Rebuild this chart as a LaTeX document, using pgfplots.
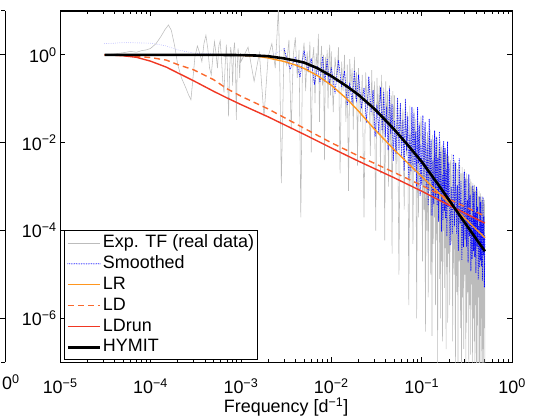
\documentclass[border=0pt]{standalone}
\usepackage{fontspec}
\setmainfont{Liberation Sans}
\usepackage{pgfplots}
\pgfplotsset{compat=1.18}
\usepackage{pgfplotstable}
\definecolor{tfgray}{RGB}{188,188,188}
\definecolor{tflegend}{RGB}{210,210,210}
\definecolor{smblue}{RGB}{0,0,255}
\definecolor{lrorange}{RGB}{255,150,30}
\definecolor{ldorange}{RGB}{250,105,45}
\definecolor{ldrunred}{RGB}{240,55,35}
\newcommand{\chartfont}{\fontsize{18}{21}\selectfont}
\pgfplotstableread{
x y
3.1e-5 1.0
4e-5 1.05
5e-5 1.12
6e-5 1.2
7e-5 1.15
8e-5 1.25
9e-5 1.3
1.0e-4 1.4
1.15e-4 1.8
1.3e-4 2.6
1.45e-4 3.8
1.58e-4 4.8
1.7e-4 3.6
1.85e-4 1.6
2.0e-4 0.6
2.2e-4 0.3
2.45e-4 0.18
2.65e-4 0.12
2.8e-4 0.095
2.95e-4 0.3
3.1e-4 0.9
3.3e-4 1.6
3.5e-4 1.1
3.7e-4 0.7
3.9e-4 1.8
4.1e-4 2.8
4.3e-4 1.4
4.5e-4 0.5
4.7e-4 0.35
4.9e-4 0.9
5.1e-4 2.0
5.3e-4 1.1
5.5e-4 0.5
5.7e-4 1.6
5.9e-4 2.1
6.1e-4 0.8
6.3e-4 0.25
6.5e-4 0.14
6.7e-4 0.6
6.9e-4 1.7
7.1e-4 0.5
7.3e-4 0.04
7.5e-4 0.4
7.7e-4 1.5
7.9e-4 1.0
8.1e-4 0.2
8.3e-4 1.2
8.5e-4 1.9
8.7e-4 0.7
8.9e-4 0.033
9.1e-4 0.5
9.3e-4 1.4
9.5e-4 0.9
9.7e-4 0.3
9.9e-4 1.1
1.0e-3 0.7
1.2e-3 1.5
1.4e-3 0.25
1.6e-3 1.1
1.8e-3 0.04
2.0e-3 0.9
2.2e-3 1.8
2.4e-3 0.5
2.6e-3 12
2.7e-3 0.3
2.8e-3 1.2e-3
3.0e-3 1.4
3.2e-3 0.6
3.4e-3 2.2
3.6e-3 0.02
3.8e-3 1.0
4.0e-3 2.5
4.2e-3 0.3
4.4e-3 1.3
4.6e-3 2e-4
4.8e-3 0.9
5.0e-3 1.9
5.2e-3 0.15
5.4e-3 1.2
5.6e-3 0.4
5.8e-3 2.0
6.0e-3 6e-3
6.2e-3 0.8
6.4e-3 1.5
6.6e-3 0.08
6.8e-3 1.1
7.0e-3 0.5
7.2e-3 3.0
7.4e-3 0.03
7.6e-3 0.7
7.8e-3 1.6
8.0e-3 0.2
8.2e-3 1.0
8.4e-3 4e-3
8.6e-3 0.9
8.8e-3 0.35
9.0e-3 1.3
9.2e-3 0.06
9.4e-3 0.8
9.6e-3 1.7
9.8e-3 0.12
0.0100 1.2
0.0105 0.05
0.0110 0.9
0.0115 0.3
0.0120 1.5
0.0125 2e-3
0.0130 0.7
0.0135 0.15
0.0140 1.0
0.0145 0.03
0.0150 0.6
0.0155 8e-4
0.0160 0.8
0.0165 0.2
0.0170 0.5
0.0175 0.02
0.0180 0.9
0.0185 0.1
0.0190 0.4
0.0195 3e-3
0.020 0.5
0.021 0.03
0.022 0.35
0.023 2e-4
0.024 0.4
0.025 0.06
0.026 0.3
0.027 5e-3
0.028 0.45
0.029 0.02
0.030 0.25
0.031 1e-4
0.032 0.3
0.033 0.04
0.034 0.2
0.035 2e-3
0.036 0.35
0.037 0.01
0.038 0.18
0.039 6e-5
0.040 0.25
0.041 0.03
0.042 0.15
0.043 1e-3
0.044 0.2
0.045 8e-3
0.046 0.12
0.047 3e-5
0.048 0.15
0.049 0.02
0.050 0.12
0.052 2e-3
0.054 0.1
0.056 1e-5
0.058 0.08
0.060 0.01
0.062 0.06
0.064 3e-4
0.066 0.09
0.068 5e-3
0.070 0.05
0.072 2e-6
0.074 0.07
0.076 1e-3
0.078 0.04
0.080 5e-5
0.082 0.06
0.084 4e-3
0.086 0.035
0.088 1e-6
0.090 0.05
0.092 2e-4
0.094 0.03
0.096 6e-3
0.098 0.04
0.100 0.02
0.102 2e-5
0.104 0.015
0.106 3e-4
0.108 0.022
0.110 5e-7
0.112 0.012
0.114 1e-4
0.116 0.018
0.118 3e-6
0.120 0.014
0.122 8e-4
0.124 0.02
0.126 1e-5
0.128 0.01
0.130 4e-7
0.132 0.015
0.134 5e-5
0.136 0.012
0.138 2e-4
0.140 0.016
0.142 2e-6
0.144 0.008
0.146 6e-5
0.148 0.013
0.150 5e-8
0.152 0.01
0.154 3e-4
0.156 0.007
0.158 8e-6
0.160 0.011
0.162 1e-6
0.164 0.008
0.166 2e-5
0.168 0.009
0.170 3e-7
0.172 0.007
0.174 1e-4
0.176 0.008
0.178 5e-6
0.180 0.006
0.182 4e-5
0.184 0.0075
0.186 2e-7
0.188 0.0055
0.190 1.5e-5
0.192 0.007
0.194 8e-7
0.196 0.005
0.198 3e-5
0.200 0.005
0.204 2e-6
0.208 0.004
0.212 5e-5
0.216 0.0055
0.220 3e-7
0.224 0.003
0.228 1e-5
0.232 0.004
0.236 5e-8
0.240 0.0035
0.244 4e-6
0.248 0.0025
0.252 1e-7
0.256 0.0035
0.260 2e-5
0.264 0.003
0.268 6e-7
0.272 0.002
0.276 5e-8
0.280 0.0028
0.284 3e-6
0.288 0.002
0.292 2e-7
0.296 0.0025
0.300 1e-5
0.304 0.0016
0.308 5e-8
0.312 0.002
0.316 8e-7
0.320 0.0015
0.324 4e-6
0.328 0.0018
0.332 5e-8
0.336 0.0012
0.340 2e-6
0.344 0.0015
0.348 1.5e-7
0.352 0.0013
0.356 6e-6
0.360 0.001
0.364 5e-8
0.368 0.0012
0.372 1e-6
0.376 0.0009
0.380 3e-7
0.384 0.0011
0.388 5e-8
0.392 0.0008
0.396 2e-6
0.400 0.001
0.404 5e-8
0.408 0.0007
0.412 7e-7
0.416 0.0009
0.420 5e-8
0.424 0.0006
0.428 3e-6
0.432 0.0008
0.436 5e-8
0.440 0.0006
0.444 4e-7
0.448 0.0007
0.452 5e-8
0.456 0.0005
0.460 1e-6
0.464 0.0006
0.468 5e-8
0.472 0.0005
0.476 2e-7
0.480 0.00055
0.484 5e-8
0.488 0.0004
0.492 6e-7
0.496 0.0005
0.500 5e-8
}\tfdata
\pgfplotstableread{
x y
3.1e-5 1.8
5e-5 1.9
1e-4 1.85
1.5e-4 1.6
2e-4 1.3
3e-4 1.1
5e-4 1.05
1e-3 0.95
2e-3 0.9
3.0e-3 1.38
}\smlow
\pgfplotstableread{
x y
3.0e-3 1.38
3.5e-3 0.47
4.0e-3 0.89
4.5e-3 0.31
5.0e-3 1.26
5.5e-3 0.43
6.0e-3 0.83
6.5e-3 0.21
7.0e-3 0.54
7.5e-3 0.24
8.0e-3 0.91
8.5e-3 0.25
9.0e-3 0.78
9.5e-3 0.21
0.010 0.51
0.011 0.135
0.012 0.76
0.013 0.186
0.014 0.43
0.015 0.072
0.016 0.234
0.017 0.079
0.018 0.44
0.019 0.085
0.0200 0.355
0.0215 0.060
0.0230 0.178
0.0245 0.029
0.0260 0.32
0.0275 0.049
0.0290 0.158
0.0305 0.0138
0.0320 0.074
0.0335 0.017
0.0350 0.186
0.0365 0.019
0.0380 0.145
0.0395 0.0135
0.0410 0.066
0.0425 6.8e-3
0.0440 0.17
0.0455 0.016
0.0470 0.076
0.0485 3.9e-3
0.050 0.032
0.052 5.6e-3
0.054 0.107
0.056 6.8e-3
0.058 0.078
0.060 4.8e-3
0.062 0.032
0.064 2.3e-3
0.066 0.098
0.068 6.6e-3
0.070 0.040
0.072 1.4e-3
0.074 0.0155
0.076 2.2e-3
0.078 0.065
0.080 3.0e-3
0.082 0.047
0.084 2.1e-3
0.086 0.018
0.088 1.0e-3
0.090 0.065
0.092 3.4e-3
0.094 0.0245
0.096 6.3e-4
0.098 9.3e-3
0.100 1.1e-3
0.103 0.042
0.106 1.4e-3
0.109 0.029
0.112 9.8e-4
0.115 9.5e-3
0.118 3.9e-4
0.121 0.035
0.124 1.4e-3
0.127 0.0117
0.130 2.2e-4
0.133 3.9e-3
0.136 4.0e-4
0.139 0.019
0.142 5.8e-4
0.145 0.0135
0.148 3.9e-4
0.151 4.5e-3
0.154 1.6e-4
0.157 0.018
0.160 6.5e-4
0.163 6.0e-3
0.166 9.5e-5
0.169 1.9e-3
0.172 1.8e-4
0.175 0.0107
0.178 2.8e-4
0.181 7.4e-3
0.184 1.9e-4
0.187 2.4e-3
0.190 7.6e-5
0.193 0.0107
0.196 3.4e-4
0.200 3.5e-3
0.206 4.6e-5
0.212 1.0e-3
0.218 8.7e-5
0.224 5.4e-3
0.230 1.26e-4
0.236 3.5e-3
0.242 8.7e-5
0.248 1.07e-3
0.254 3.5e-5
0.260 4.3e-3
0.266 1.45e-4
0.272 1.3e-3
0.278 2.2e-5
0.284 4.3e-4
0.290 4.2e-5
0.296 2.2e-3
0.302 6.2e-5
0.308 1.45e-3
0.314 4.3e-5
0.320 4.9e-4
0.326 1.9e-5
0.332 1.9e-3
0.338 7.4e-5
0.344 6.5e-4
0.350 1.2e-5
0.356 2.2e-4
0.362 2.3e-5
0.368 1.07e-3
0.374 3.4e-5
0.380 7.6e-4
0.386 2.5e-5
0.392 2.6e-4
0.398 1.1e-5
0.404 1.0e-3
0.410 4.4e-5
0.416 3.5e-4
0.422 7.6e-6
0.428 1.26e-4
0.434 1.45e-5
0.440 5.9e-4
0.446 2.1e-5
0.452 4.4e-4
0.458 1.55e-5
0.464 1.55e-4
0.470 7.2e-6
0.476 5.8e-4
0.482 2.8e-5
0.488 2.1e-4
0.494 5.1e-6
0.500 7.9e-5
}\smdata
\begin{document}
\begin{tikzpicture}
\path (-58pt,-54pt) rectangle (477pt,364pt);
\begin{axis}[
  name=leftpanel,
  at={(-59pt,0pt)}, anchor=south west,
  scale only axis, width=4pt, height=353pt,
  xmin=0, xmax=1, ymode=log, ymin=1e-7, ymax=10,
  axis x line*=bottom, axis y line*=right,
  xtick={1}, xticklabels={0\textsuperscript{0}},
  xticklabel style={font=\chartfont, anchor=north west, xshift=-3.5pt, yshift=-9pt, inner xsep=0pt},
  xtick style={draw=none},
  ytick={1e-6,1e-4,1e-2,1}, yticklabels={},
  yminorticks=false, ytick align=inside,
  major tick length=5pt,
  axis line style={line width=1.1pt, -},
  every tick/.style={black, line width=0.8pt},
]
\end{axis}
\draw[line width=1.1pt] (-59pt,353pt) -- (-55pt,353pt);
\begin{axis}[
  at={(0pt,0pt)}, anchor=south west,
  scale only axis, width=454pt, height=353pt,
  xmode=log, ymode=log,
  xmin=1e-5, xmax=1, ymin=1e-7, ymax=10,
  xtick={1e-5,1e-4,1e-3,1e-2,1e-1,1},
  xticklabels={10\textsuperscript{−5},10\textsuperscript{−4},10\textsuperscript{−3},10\textsuperscript{−2},10\textsuperscript{−1},10\textsuperscript{0}},
  minor xtick={2e-5,3e-5,4e-5,5e-5,6e-5,7e-5,8e-5,9e-5,
    2e-4,3e-4,4e-4,5e-4,6e-4,7e-4,8e-4,9e-4,
    2e-3,3e-3,4e-3,5e-3,6e-3,7e-3,8e-3,9e-3,
    2e-2,3e-2,4e-2,5e-2,6e-2,7e-2,8e-2,9e-2,
    0.2,0.3,0.4,0.5,0.6,0.7,0.8,0.9},
  ytick={1e-6,1e-4,1e-2,1},
  yticklabels={10\textsuperscript{−6},10\textsuperscript{−4},10\textsuperscript{−2},10\textsuperscript{0}},
  yminorticks=false,
  major tick length=5pt, minor tick length=3pt,
  axis line style={line width=1.1pt},
  every tick/.style={black, line width=0.8pt},
  tick label style={font=\chartfont},
  xticklabel style={yshift=-13pt},
  xlabel={Frequency [d\textsuperscript{−1}]},
  xlabel style={font=\chartfont, yshift=3pt},
  legend style={font=\chartfont, at={(0,0)}, anchor=south west, xshift=4pt, yshift=2pt,
    draw=black, line width=1pt, fill=white, inner sep=2pt,
    nodes={inner sep=1.5pt, text height=13.5pt, text depth=4.5pt}},
  legend cell align=left,
  legend image post style={xscale=1.9},
]
\addplot[color=tfgray, line width=0.55pt] table {\tfdata};
\addlegendentry{Exp. TF (real data)}
\addplot[color=smblue, line width=1.0pt, line cap=round, dash pattern=on 0pt off 1.7pt] table {\smdata};
\addlegendentry{Smoothed}
\addplot[forget plot, color=smblue!45, line width=0.7pt, line cap=round, dash pattern=on 0pt off 2.2pt] table {\smlow};
\addplot[color=lrorange, line width=1.4pt] coordinates {
(3.1e-5,1) (3e-4,1) (1e-3,0.977) (1.5e-3,0.93) (2e-3,0.851) (3e-3,0.708)
(4e-3,0.59) (5e-3,0.49) (7e-3,0.339) (1e-2,0.204) (1.5e-2,0.0977)
(2e-2,0.0525) (3e-2,0.0204) (5e-2,6.8e-3) (0.1,1.7e-3) (0.2,4.27e-4)
(0.3,1.9e-4) (0.5,6.9e-5)};
\addlegendentry{LR}
\addplot[color=ldorange, line width=1.4pt, dash pattern=on 6pt off 4pt] coordinates {
(3.1e-5,1) (5e-5,0.966) (7e-5,0.923) (1e-4,0.871) (1.5e-4,0.759) (2e-4,0.603)
(3e-4,0.457) (5e-4,0.272) (7e-4,0.17) (1e-3,0.115) (2e-3,0.0589) (5e-3,0.0214)
(1e-2,0.01) (2e-2,5.0e-3) (5e-2,2.09e-3) (0.1,1.07e-3) (0.2,5.2e-4) (0.5,2.14e-4)};
\addlegendentry{LD}
\addplot[color=ldrunred, line width=1.4pt] coordinates {
(3.1e-5,1) (4e-5,0.98) (5e-5,0.955) (7e-5,0.881) (1e-4,0.72) (1.5e-4,0.525)
(2e-4,0.389) (3e-4,0.257) (5e-4,0.148) (7e-4,0.105) (1e-3,0.0741) (2e-3,0.0389)
(5e-3,0.0155) (1e-2,7.6e-3) (2e-2,3.8e-3) (5e-2,1.58e-3) (0.1,7.9e-4)
(0.2,3.8e-4) (0.5,1.48e-4)};
\addlegendentry{LDrun}
\addplot[color=black, line width=2.6pt] coordinates {
(3.1e-5,1) (1e-4,1) (5e-4,1) (1e-3,0.99) (1.5e-3,0.965) (2e-3,0.933) (3e-3,0.832)
(4e-3,0.74) (5e-3,0.668) (7e-3,0.50) (1e-2,0.33) (1.5e-2,0.19) (2e-2,0.123)
(3e-2,0.0589) (4e-2,0.032) (5e-2,0.0197) (7e-2,8.9e-3) (0.1,3.7e-3)
(0.15,1.17e-3) (0.2,5.0e-4) (0.3,1.51e-4) (0.4,6.5e-5) (0.5,3.4e-5)};
\addlegendentry{HYMIT}
\end{axis}
\end{tikzpicture}
\end{document}
